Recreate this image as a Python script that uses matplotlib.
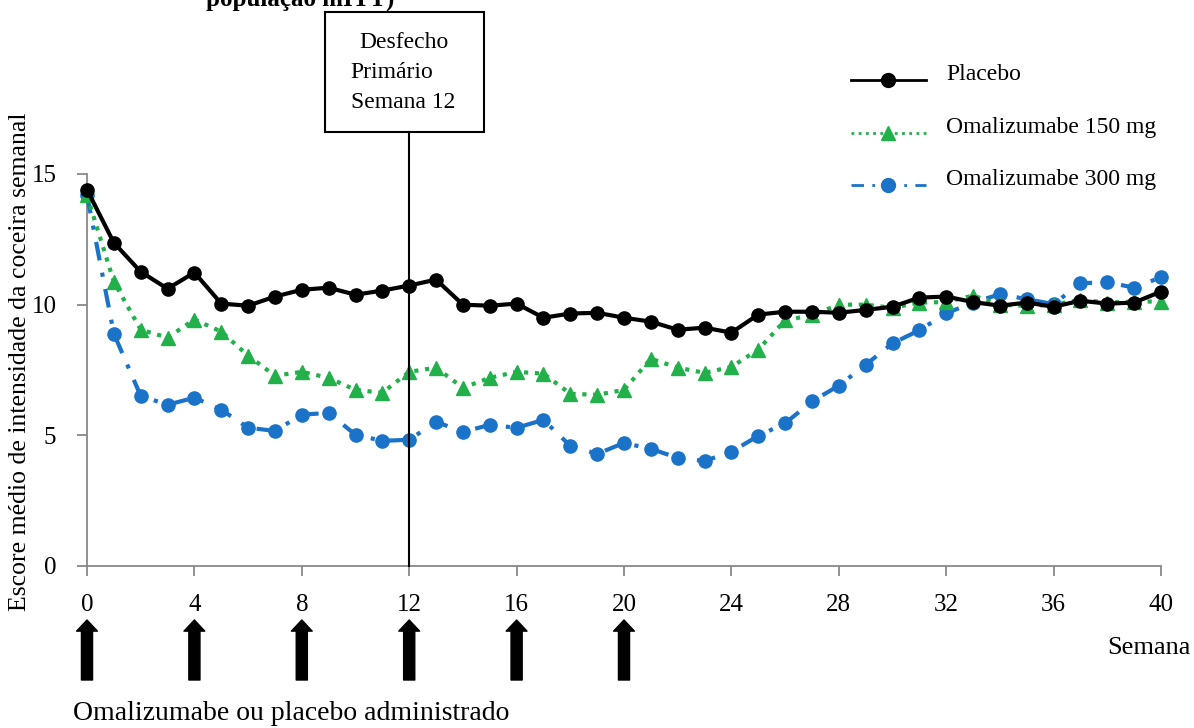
import matplotlib
matplotlib.use("Agg")
import matplotlib.pyplot as plt
from matplotlib.lines import Line2D

plt.rcParams['font.family'] = ['Liberation Serif', 'DejaVu Serif']

weeks = list(range(0, 41))
placebo = [14.4, 12.37, 11.26, 10.61, 11.23, 10.04, 9.96, 10.31, 10.57, 10.65,
           10.38, 10.54, 10.73, 10.96, 10.0, 9.96, 10.04, 9.5, 9.66, 9.69,
           9.5, 9.35, 9.04, 9.12, 8.93, 9.62, 9.73, 9.73, 9.69, 9.8,
           9.92, 10.27, 10.31, 10.1, 9.96, 10.08, 9.92, 10.15, 10.04, 10.08, 10.5]
oma150 = [14.18, 10.88, 9.04, 8.74, 9.43, 8.97, 8.05, 7.28, 7.43, 7.2,
          6.74, 6.63, 7.43, 7.59, 6.82, 7.2, 7.43, 7.36, 6.59, 6.55,
          6.74, 7.93, 7.59, 7.39, 7.62, 8.28, 9.4, 9.6, 10.0, 10.0,
          9.88, 10.08, 10.1, 10.35, 10.0, 9.95, 10.0, 10.19, 10.08, 10.12, 10.12]
oma300 = [14.2, 8.89, 6.51, 6.17, 6.44, 5.98, 5.29, 5.17, 5.79, 5.86,
          5.02, 4.79, 4.83, 5.52, 5.13, 5.4, 5.29, 5.59, 4.6, 4.29,
          4.71, 4.48, 4.14, 4.02, 4.37, 4.98, 5.46, 6.3, 6.9, 7.7,
          8.52, 9.02, 9.67, 10.08, 10.4, 10.21, 10.02, 10.82, 10.86, 10.65, 11.05]
series_names = ['Placebo', 'Omalizumabe 150 mg', 'Omalizumabe 300 mg']
xticks = list(range(0, 41, 4))
yticks = [0, 5, 10, 15]
dose_weeks = [0, 4, 8, 12, 16, 20]

black = '#000000'
green = '#22B04B'
blue = '#1A73C8'
gray = '#888888'
FS = 17

W, H = 1194, 728
fig = plt.figure(figsize=(W / 100, H / 100), dpi=100)
ax = fig.add_axes([87 / W, 1 - 566 / H, (1161 - 87) / W, (566 - 174) / H])

styles = [
    dict(color=black, linestyle='-', marker='o'),
    dict(color=green, linestyle=(0, (1, 1.6)), marker='^'),
    dict(color=blue, linestyle=(0, (4.5, 3, 1, 3)), marker='o'),
]
for vals, st, z in zip([placebo, oma150, oma300], styles, [5, 4, 3]):
    ax.plot(weeks, vals, lw=3, ms=9.5, zorder=z, clip_on=False, **st)

ax.set_xlim(0, 40)
ax.set_ylim(0, 15)
ax.set_xticks(xticks)
ax.set_yticks(yticks)
ax.tick_params(axis='both', colors=gray, labelcolor='black', labelsize=18,
               direction='out', length=7, width=1.3)
ax.tick_params(axis='x', pad=13)
ax.tick_params(axis='y', pad=15)
for s in ['top', 'right']:
    ax.spines[s].set_visible(False)
for s in ['left', 'bottom']:
    ax.spines[s].set_color(gray)
    ax.spines[s].set_linewidth(1.3)

# vertical line at week 12
ax.axvline(12, ymin=0, ymax=(566 - 132) / (566 - 174), color='black', lw=1.5,
           clip_on=False, zorder=6)

# box annotation
box_l, box_r, box_t, box_b = 325, 484, 12, 132
fig.patches.append(plt.Rectangle((box_l / W, 1 - box_b / H), (box_r - box_l) / W,
                                 (box_b - box_t) / H, transform=fig.transFigure,
                                 fill=False, edgecolor='black', lw=1.5))
fig.text(359 / W, 1 - 42 / H, 'Desfecho', fontsize=17, va='center', ha='left')
fig.text(350 / W, 1 - 72 / H, 'Primário', fontsize=17, va='center', ha='left')
fig.text(351 / W, 1 - 102 / H, 'Semana 12', fontsize=17, va='center', ha='left')

# truncated title
fig.text(206 / W, 1 - 6 / H, 'população mITT)', fontsize=18, fontweight='bold',
         va='baseline', ha='left')

# y label
fig.text(20 / W, 1 - 362 / H, 'Escore médio de intensidade da coceira semanal',
         rotation=90, fontsize=18.5, va='center', ha='center')

# x label
fig.text(1191 / W, 1 - 648 / H, 'Semana', fontsize=19, ha='right', va='center')
fig.text(73 / W, 1 - 714 / H, 'Omalizumabe ou placebo administrado', fontsize=20,
         ha='left', va='center')

# dose arrows
trans = ax.get_xaxis_transform()
tip = -(620 - 566) / (566 - 174)
tail = -(680 - 566) / (566 - 174)
for w in dose_weeks:
    ax.annotate('', xy=(w, tip), xytext=(w, tail), xycoords=trans, textcoords=trans,
                annotation_clip=False,
                arrowprops=dict(facecolor='black', edgecolor='black', width=8,
                                headwidth=15, headlength=8, shrink=0))

# legend (drawn manually to match the reference placement)
leg_y = [80, 133, 185]
for name, st, ly in zip(series_names, styles, leg_y):
    fy = 1 - ly / H
    fig.add_artist(Line2D([851 / W, 926 / W], [fy, fy], transform=fig.transFigure,
                          lw=2, ms=0, color=st['color'], linestyle=st['linestyle']))
    fig.add_artist(Line2D([888 / W], [fy], transform=fig.transFigure, lw=0,
                          marker=st['marker'], ms=10, color=st['color']))
    fig.text(946 / W, 1 - (ly + 0) / H, name, fontsize=FS, ha='left', va='baseline')

fig.savefig('out.png', dpi=100)
